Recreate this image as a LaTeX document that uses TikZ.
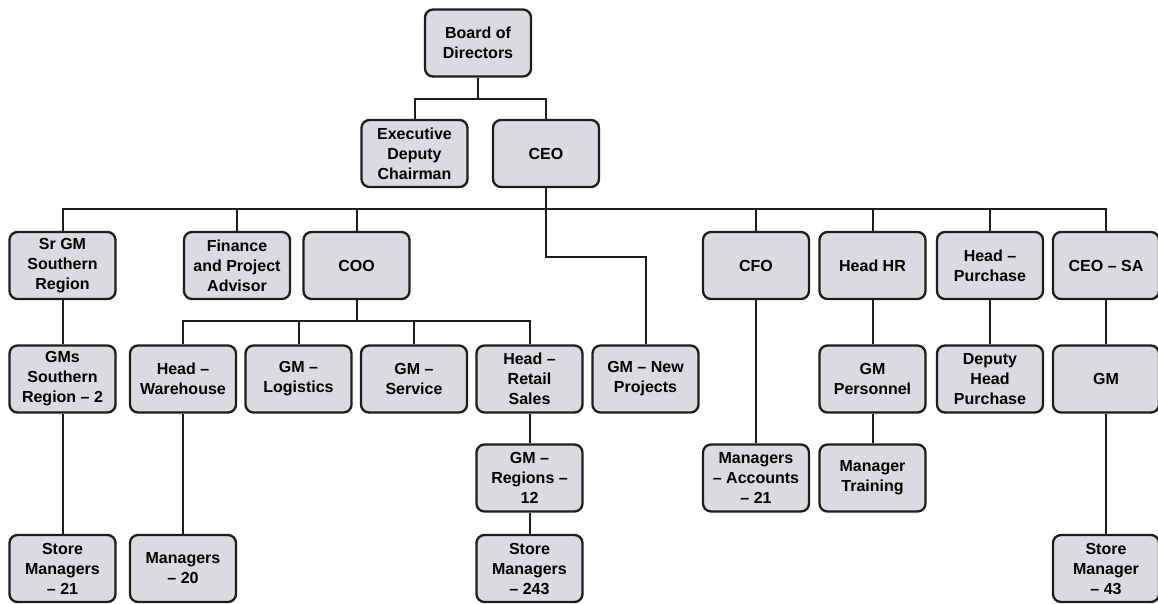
\documentclass[tikz,border=0pt]{standalone}
\usepackage{fontspec}
\setmainfont{Liberation Sans}
\definecolor{boxgray}{RGB}{218,219,222}
\definecolor{inkline}{RGB}{30,28,29}
\begin{document}
\begin{tikzpicture}[x=1pt,y=-1pt,
    unit/.style={draw=inkline,fill=boxgray,line width=2.3pt,rounded corners=8pt,
        minimum width=106pt,minimum height=67pt,inner sep=2pt,align=center,
        font=\fontsize{16}{20}\selectfont\bfseries},
    link/.style={draw=inkline,line width=2pt}]
    \useasboundingbox (0,0) rectangle (1158,603);
    \node[unit] (board) at (478,43) {Board of\\Directors};
    \node[unit] (exec) at (414.5,153.5) {Executive\\Deputy\\Chairman};
    \node[unit] (ceo) at (546,153.5) {CEO};
    \node[unit] (srgm) at (62.5,265.5) {Sr GM\\Southern\\Region};
    \node[unit] (fin) at (237,265.5) {Finance\\and Project\\Advisor};
    \node[unit] (coo) at (356.5,265.5) {COO};
    \node[unit] (cfo) at (756,265.5) {CFO};
    \node[unit] (hr) at (872.5,265.5) {Head HR};
    \node[unit] (purch) at (990,265.5) {Head --\\Purchase};
    \node[unit] (ceosa) at (1106,265.5) {CEO -- SA};
    \node[unit] (gms) at (62.5,379) {GMs\\Southern\\Region -- 2};
    \node[unit] (ware) at (183,379) {Head --\\Warehouse};
    \node[unit] (logi) at (298.5,379) {GM --\\Logistics};
    \node[unit] (serv) at (414,379) {GM --\\Service};
    \node[unit] (retail) at (529.5,379) {Head --\\Retail\\Sales};
    \node[unit] (newp) at (645.5,379) {GM -- New\\Projects};
    \node[unit] (pers) at (872.5,379) {GM\\Personnel};
    \node[unit] (dep) at (990,379) {Deputy\\Head\\Purchase};
    \node[unit] (gm) at (1106,379) {GM};
    \node[unit] (regions) at (529.5,478) {GM --\\Regions --\\12};
    \node[unit] (acc) at (756,478) {Managers\\-- Accounts\\-- 21};
    \node[unit] (train) at (872.5,478) {Manager\\Training};
    \node[unit] (sm21) at (62.5,568.5) {Store\\Managers\\-- 21};
    \node[unit] (mgr20) at (183,568.5) {Managers\\-- 20};
    \node[unit] (sm243) at (529.5,568.5) {Store\\Managers\\-- 243};
    \node[unit] (sm43) at (1106,568.5) {Store\\Manager\\-- 43};

    \draw[link] (board.south) -- ++(0,22);
    \draw[link] (exec.north) -- ++(0,-20) -| (ceo.north);
    \draw[link] (srgm.north) -- ++(0,-22) -| (ceosa.north);
    \draw[link] (fin.north) -- ++(0,-22);
    \draw[link] (coo.north) -- ++(0,-22);
    \draw[link] (cfo.north) -- ++(0,-22);
    \draw[link] (hr.north) -- ++(0,-22);
    \draw[link] (purch.north) -- ++(0,-22);
    \draw[link] (ceo.south) -- ++(0,69) -| (newp.north);
    \draw[link] (coo.south) -- ++(0,22);
    \draw[link] (ware.north) -- ++(0,-23) -| (retail.north);
    \draw[link] (logi.north) -- ++(0,-23);
    \draw[link] (serv.north) -- ++(0,-23);
    \draw[link] (srgm) -- (gms) -- (sm21);
    \draw[link] (ware) -- (mgr20);
    \draw[link] (retail) -- (regions) -- (sm243);
    \draw[link] (cfo) -- (acc);
    \draw[link] (hr) -- (pers) -- (train);
    \draw[link] (purch) -- (dep);
    \draw[link] (ceosa) -- (gm) -- (sm43);
\end{tikzpicture}
\end{document}
